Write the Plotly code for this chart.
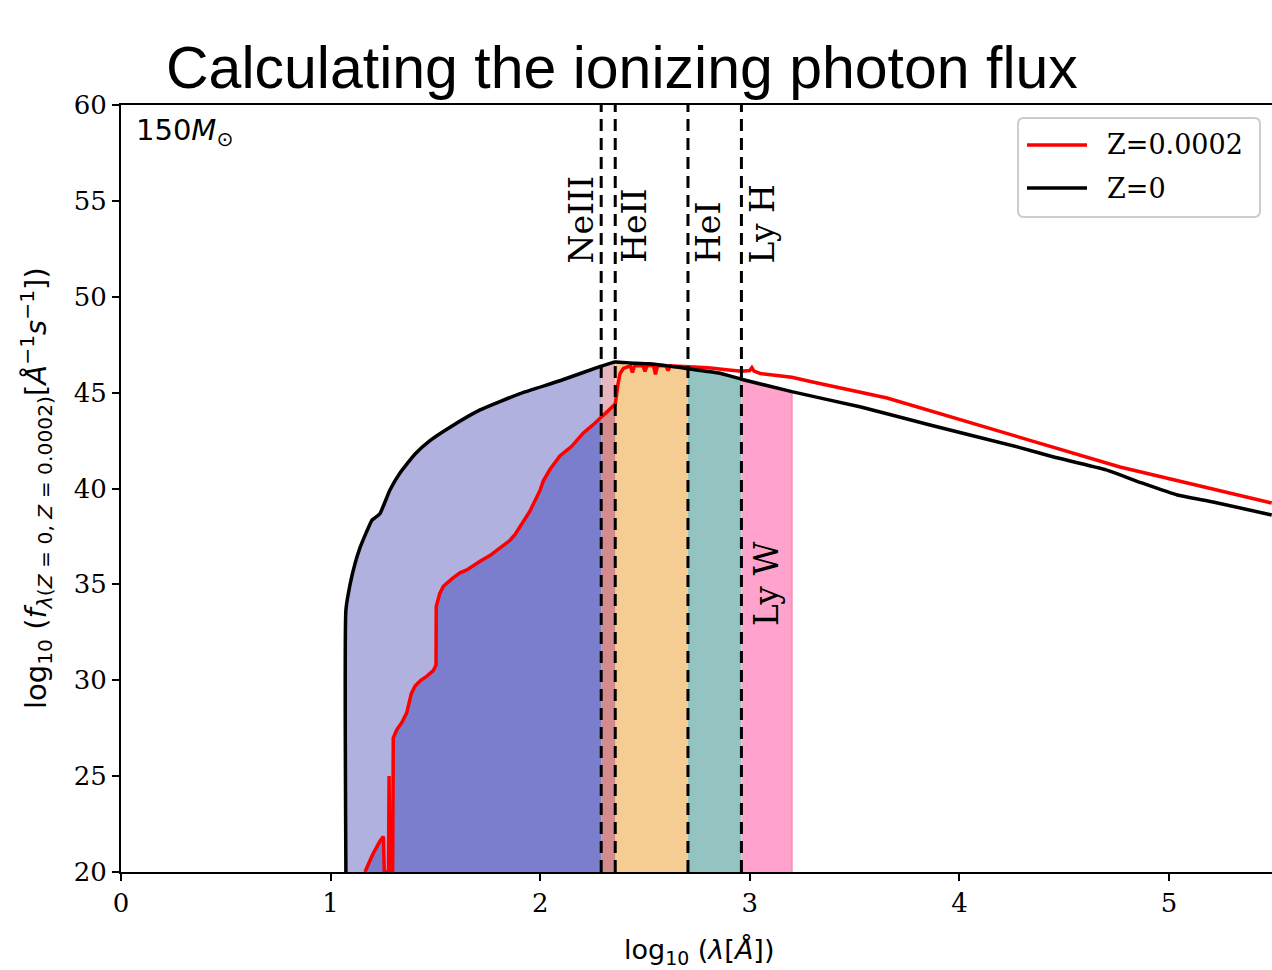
import numpy as np
import plotly.graph_objects as go

# Spectrum of a 150 Msun star, log10 wavelength [A] vs log10 photon flux
z0_logwl = [1.073, 1.073, 1.093, 1.117, 1.140, 1.170, 1.198, 1.215, 1.236, 1.283, 1.331,
            1.403, 1.474, 1.570, 1.713, 1.904, 2.094, 2.291, 2.358, 2.428, 2.524, 2.705,
            2.858, 2.96, 3.2, 3.53, 3.86, 4.28, 4.45, 4.70, 4.87, 5.04, 5.21, 5.49]
z0_logf = [20.0, 33.66, 35.0, 36.1, 36.9, 37.7, 38.36, 38.5, 38.7, 39.92, 40.81,
           41.8, 42.5, 43.2, 44.1, 44.95, 45.62, 46.38, 46.6, 46.55, 46.5, 46.25,
           46.01, 45.7, 45.05, 44.25, 43.31, 42.16, 41.64, 40.97, 40.29, 39.66, 39.3, 38.62]

z2_logwl = [1.164, 1.20, 1.235, 1.252, 1.256, 1.276, 1.279, 1.283, 1.296, 1.299, 1.315,
            1.34, 1.363, 1.385, 1.403, 1.43, 1.458, 1.49, 1.503, 1.504, 1.52, 1.538,
            1.58, 1.617, 1.65, 1.67, 1.713, 1.76, 1.808, 1.856, 1.88, 1.913, 1.95,
            1.999, 2.015, 2.047, 2.094, 2.15, 2.206, 2.25, 2.291, 2.33, 2.358, 2.372,
            2.381, 2.397, 2.413, 2.43, 2.44, 2.45, 2.49, 2.50, 2.51, 2.54, 2.55, 2.56,
            2.60, 2.61, 2.62, 2.705, 2.80, 2.90, 2.96, 3.0, 3.01, 3.02, 3.05, 3.2, 3.3,
            3.655, 4.208, 4.766, 5.49]
z2_logf = [20.0, 20.9, 21.6, 21.85, 20.0, 20.0, 25.0, 20.0, 20.0, 27.0, 27.4,
           27.8, 28.3, 29.3, 29.7, 30.0, 30.2, 30.5, 30.8, 33.85, 34.5, 34.9,
           35.3, 35.6, 35.75, 35.9, 36.2, 36.5, 36.9, 37.3, 37.6, 38.2, 38.8,
           39.9, 40.4, 41.0, 41.7, 42.2, 42.9, 43.3, 43.7, 44.1, 44.4, 45.5,
           46.0, 46.26, 46.35, 46.4, 46.05, 46.4, 46.42, 46.1, 46.42, 46.42, 45.95, 46.42,
           46.4, 46.15, 46.4, 46.35, 46.3, 46.18, 46.12, 46.15, 46.3, 46.12, 46.0, 45.8, 45.55,
           44.72, 42.95, 41.12, 39.24]

# Ionisation edges (log10 A) and the Lyman-Werner band limit
edge_names = ["NeIII", "HeII", "HeI", "Ly H"]
edge_logwl = [2.291, 2.358, 2.705, 2.96]
lw_limit = 3.2

series_names = ["Z=0.0002", "Z=0"]
series_colors = ["#ff0000", "#000000"]

bx, by = np.array(z0_logwl), np.array(z0_logf)
rx, ry = np.array(z2_logwl), np.array(z2_logf)

fig = go.Figure()
SMOOTH = 0.4


def band(x, y, lo, hi, color, shape="linear"):
    m = (x >= lo) & (x <= hi)
    fig.add_trace(go.Scatter(x=x[m], y=y[m], mode="lines",
                             line=dict(width=0, shape=shape, smoothing=SMOOTH),
                             fill="tozeroy", fillcolor=color, showlegend=False,
                             hoverinfo="skip"))


# shaded bands under the Z=0 curve
band(bx, by, bx.min(), edge_logwl[0], "#b1b1e0", "spline")
band(bx, by, edge_logwl[0], edge_logwl[1], "#e7b6bf", "spline")
band(bx, by, edge_logwl[1], edge_logwl[2], "#f5cd93", "spline")
band(bx, by, edge_logwl[2], edge_logwl[3], "#93c4c2", "spline")
band(bx, by, edge_logwl[3], lw_limit, "#ffa3cc", "spline")
# shaded bands under the Z=0.0002 curve
band(rx, ry, rx.min(), edge_logwl[0], "#7b7ecd")
band(rx, ry, edge_logwl[0], edge_logwl[1], "#d48b8e")

# edge of the Lyman-Werner band
lw_top = by[np.where(bx == lw_limit)[0][0]]
fig.add_trace(go.Scatter(x=[lw_limit, lw_limit], y=[0, lw_top], mode="lines",
                         line=dict(color="#f791c2", width=2), showlegend=False,
                         hoverinfo="skip"))

fig.add_trace(go.Scatter(x=rx, y=ry, mode="lines", name=series_names[0],
                         line=dict(color=series_colors[0], width=3.5)))
fig.add_trace(go.Scatter(x=bx, y=by, mode="lines", name=series_names[1],
                         line=dict(color=series_colors[1], width=3.5,
                                   shape="spline", smoothing=SMOOTH)))

for xe in edge_logwl:
    fig.add_shape(type="line", x0=xe, x1=xe, y0=0, y1=1, xref="x", yref="paper",
                  line=dict(color="black", width=3, dash="12px,7px"), layer="above")

serif = "DejaVu Serif"
label_x = [2.197, 2.452, 2.803, 3.058]
for xl, txt in zip(label_x, edge_names):
    fig.add_annotation(x=xl, y=51.66, text=txt, textangle=-90, showarrow=False,
                       xanchor="center", yanchor="bottom",
                       font=dict(family=serif, size=33, color="black"))
fig.add_annotation(x=3.077, y=32.72, text="Ly W", textangle=-90, showarrow=False,
                   xanchor="center", yanchor="bottom",
                   font=dict(family=serif, size=33, color="black"))

fig.add_annotation(x=0.062, y=58.6, text="150<i>M</i><sub>⊙</sub>", showarrow=False,
                   xanchor="left", yanchor="middle",
                   font=dict(family="DejaVu Sans", size=29, color="black"))

# plot-area pixel helpers for the page furniture
L, R, T, B = 121, 1272, 105, 872


def px(xp):
    return (xp - L) / (R - L)


def py(yp):
    return (B - yp) / (B - T)


fig.add_annotation(xref="paper", yref="paper", x=px(622), y=py(68),
                   text="Calculating the ionizing photon flux", showarrow=False,
                   xanchor="center", yanchor="middle",
                   font=dict(family="Liberation Sans", size=59, color="black"))

fig.add_annotation(xref="paper", yref="paper", x=px(699), y=py(952),
                   text="log<sub>10</sub> (<i>λ</i>[<i>Å</i>])", showarrow=False,
                   xanchor="center", yanchor="middle",
                   font=dict(family="DejaVu Sans", size=27, color="black"))

fig.add_annotation(xref="paper", yref="paper", x=px(36), y=py(488),
                   text="log<sub>10</sub> (<i>f</i><sub><i>λ</i>(<i>Z</i> = 0, <i>Z</i> = 0.0002)</sub>"
                        "[<i>Å</i><sup>−1</sup><i>s</i><sup>−1</sup>])",
                   textangle=-90, showarrow=False, xanchor="center", yanchor="middle",
                   font=dict(family="DejaVu Sans", size=29, color="black"))

# legend box
x0, x1, y0, y1, r = 1018, 1260, 118, 217, 6
path = (f"M {px(x0 + r)},{py(y0)} L {px(x1 - r)},{py(y0)} "
        f"Q {px(x1)},{py(y0)} {px(x1)},{py(y0 + r)} L {px(x1)},{py(y1 - r)} "
        f"Q {px(x1)},{py(y1)} {px(x1 - r)},{py(y1)} L {px(x0 + r)},{py(y1)} "
        f"Q {px(x0)},{py(y1)} {px(x0)},{py(y1 - r)} L {px(x0)},{py(y0 + r)} "
        f"Q {px(x0)},{py(y0)} {px(x0 + r)},{py(y0)} Z")
fig.add_shape(type="path", path=path, xref="paper", yref="paper",
              line=dict(color="#cccccc", width=2), fillcolor="rgba(255,255,255,0.85)",
              layer="above")
for i, (name, color) in enumerate(zip(series_names, series_colors)):
    yy = 145 + 43 * i
    fig.add_shape(type="line", xref="paper", yref="paper", x0=px(1027), x1=px(1087),
                  y0=py(yy), y1=py(yy), line=dict(color=color, width=3.5), layer="above")
    fig.add_annotation(xref="paper", yref="paper", x=px(1105), y=py(yy), text=name,
                       showarrow=False, xanchor="left", yanchor="middle",
                       font=dict(family=serif, size=27, color="black"))

axis_common = dict(showgrid=False, zeroline=False, showline=True, linecolor="black",
                   linewidth=2, ticks="outside", ticklen=7, tickwidth=2,
                   tickcolor="black", tickfont=dict(family=serif, size=26, color="black"))

fig.update_layout(
    width=1272, height=970,
    margin=dict(l=L, r=0, t=T, b=970 - B),
    plot_bgcolor="white", paper_bgcolor="white",
    showlegend=False,
    xaxis=dict(range=[0, 5.4914], tickmode="array", tickvals=[0, 1, 2, 3, 4, 5],
               mirror=True, **axis_common),
    yaxis=dict(range=[20, 60], tickmode="array",
               tickvals=[20, 25, 30, 35, 40, 45, 50, 55, 60], mirror=False,
               **axis_common),
)

fig.write_html("out.html")
